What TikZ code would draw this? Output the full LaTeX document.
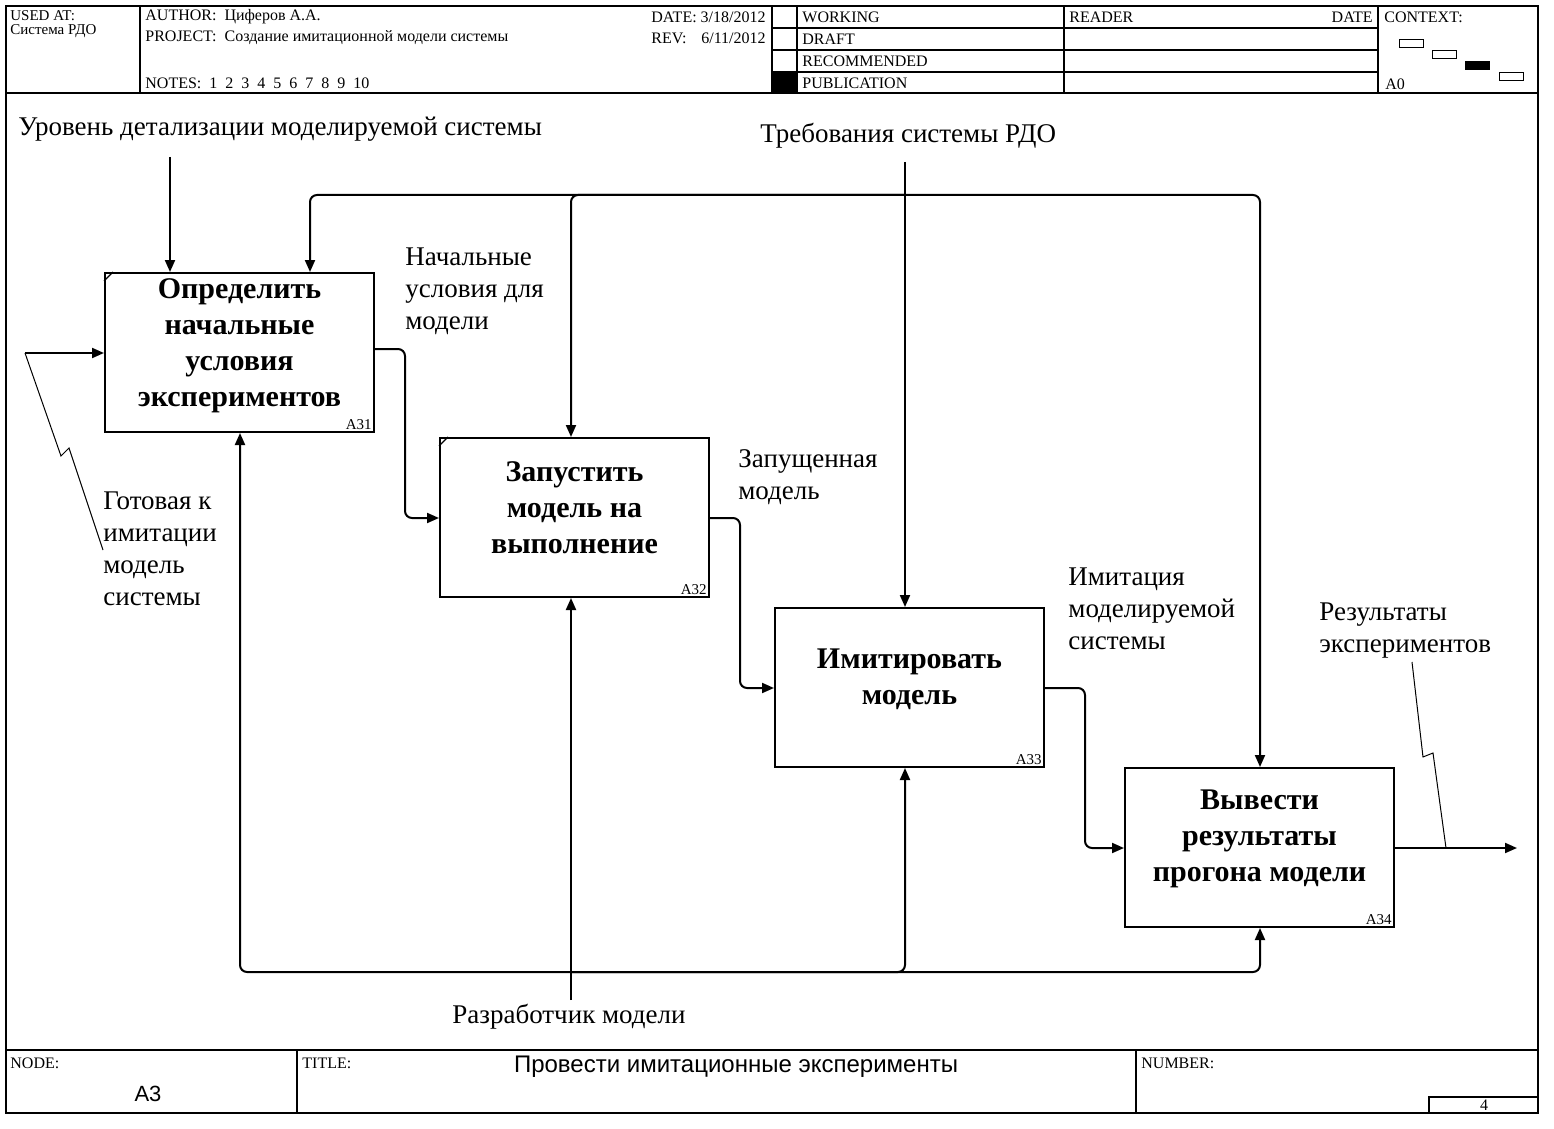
\documentclass[tikz,border=0pt]{standalone}
\usepackage{fontspec}
\setmainfont{Liberation Serif}
\newfontfamily\arialfont{Liberation Sans}
\usetikzlibrary{arrows.meta}

\begin{document}
\begin{tikzpicture}[x=0.5pt,y=-0.5pt,
  frame/.style={line width=0.6pt},
  conn/.style={line width=1pt, rounded corners=3.5pt},
  arr/.style={conn, -{Triangle[length=6pt,width=5pt]}},
  squig/.style={line width=0.5pt},
  proc/.style={draw, line width=1pt, minimum width=134.5pt, minimum height=79.5pt, inner sep=0pt},
  ptext/.style={font=\fontsize{15}{18}\selectfont\bfseries, align=center, inner sep=0pt},
  lbl/.style={font=\fontsize{13.5}{16}\selectfont, align=left, anchor=north west, inner sep=0pt},
  hdr/.style={font=\fontsize{8}{9}\selectfont, anchor=west, inner sep=0pt},
  hdrr/.style={hdr, anchor=east},
  idx/.style={font=\fontsize{7.5}{8}\selectfont, anchor=south east, inner sep=1.5pt},
  ctx/.style={draw, line width=0.5pt, minimum width=12pt, minimum height=4pt, inner sep=0pt},
  corner/.style={line width=0.6pt}
]
\useasboundingbox (0,0) rectangle (1554,1129);

% ---------- frame ----------
\draw[frame] (6,6) rectangle (1538,1113);
\draw[frame] (6,93) -- (1538,93);
\draw[frame] (6,1050) -- (1538,1050);

% header cells
\foreach \x in {140,772,797,1064,1378} \draw[frame] (\x,6) -- (\x,93);
\foreach \y in {28,50,72} \draw[frame] (772,\y) -- (1378,\y);
\fill (772,72) rectangle (797,93);

\node[hdr, font=\fontsize{7.5}{8}\selectfont, anchor=base west] (usedat) at (10,21) {USED AT:};
\node[hdr, font=\fontsize{7.5}{8}\selectfont, anchor=base west] (usedat2) at (10,35) {Система РДО};
\node[hdr] (author) at (145,17) {AUTHOR:\ \ Циферов А.А.};
\node[hdr] (project) at (145,38) {PROJECT:\ \ Создание имитационной модели системы};
\node[hdr] (notes) at (145,83) {NOTES:\ \ 1\ \ 2\ \ 3\ \ 4\ \ 5\ \ 6\ \ 7\ \ 8\ \ 9\ \ 10};
\node[hdr] (date) at (651,17) {DATE:};
\node[hdrr] (dateval) at (766,17) {3/18/2012};
\node[hdr] (rev) at (651,38) {REV:};
\node[hdrr] (revval) at (766,38) {6/11/2012};
\node[hdr] (working) at (802,17) {WORKING};
\node[hdr] (draft) at (802,39) {DRAFT};
\node[hdr] (recom) at (802,61) {RECOMMENDED};
\node[hdr] (publ) at (802,83) {PUBLICATION};
\node[hdr] (reader) at (1069,17) {READER};
\node[hdrr] (rdate) at (1373,17) {DATE};
\node[hdr] (context) at (1384,17) {CONTEXT:};
\node[hdr] (a0) at (1385,84) {A0};

% context map
\node[ctx] (c1) at (1411,44) {};
\node[ctx] (c2) at (1444,55) {};
\node[ctx, fill=black] (c3) at (1477,66) {};
\node[ctx] (c4) at (1511,77) {};

% footer cells
\draw[frame] (297,1050) -- (297,1113);
\draw[frame] (1136,1050) -- (1136,1113);
\draw[frame] (1429,1113) |- (1538,1097);
\node[hdr] (nodelbl) at (10,1063) {NODE:};
\node[hdr] (titlelbl) at (302,1063) {TITLE:};
\node[hdr] (numlbl) at (1141,1063) {NUMBER:};
\node[font=\arialfont\fontsize{11}{13}\selectfont, inner sep=0pt] (nodeval) at (148,1094) {A3};
\node[font=\arialfont\fontsize{12}{14}\selectfont, inner sep=0pt] (title) at (736,1067) {Провести имитационные эксперименты};
\node[font=\fontsize{8}{9}\selectfont, inner sep=0pt] (pagenum) at (1484,1105) {4};

% ---------- activity boxes ----------
\node[proc] (A31) at (239.5,352.5) {};
\node[proc] (A32) at (574.5,517.5) {};
\node[proc] (A33) at (909.5,687.5) {};
\node[proc] (A34) at (1259.5,847.5) {};

\node[ptext] (t31) at (239.5,346) {Определить\\начальные\\условия\\экспериментов};
\node[ptext] (t32) at (574.5,508) {Запустить\\модель на\\выполнение};
\node[ptext] (t33) at (909.5,679) {Имитировать\\модель};
\node[ptext] (t34) at (1259.5,839) {Вывести\\результаты\\прогона модели};

\node[idx] at (A31.south east) {A31};
\node[idx] at (A32.south east) {A32};
\node[idx] at (A33.south east) {A33};
\node[idx] at (A34.south east) {A34};

\draw[corner] ([yshift=-4.5pt]A31.north west) -- ([xshift=4.5pt]A31.north west);
\draw[corner] ([yshift=-4.5pt]A32.north west) -- ([xshift=4.5pt]A32.north west);

% ---------- labels ----------
\node[lbl, anchor=west] (lvl) at (18,129) {Уровень детализации моделируемой системы};
\node[lbl, anchor=west] (req) at (760,136) {Требования системы РДО};
\node[lbl] (init) at (405,247) {Начальные\\условия для\\модели};
\node[lbl] (run) at (738,449) {Запущенная\\модель};
\node[lbl] (imit) at (1068,567) {Имитация\\моделируемой\\системы};
\node[lbl] (res) at (1319,602) {Результаты\\экспериментов};
\node[lbl] (ready) at (103,491) {Готовая к\\имитации\\модель\\системы};
\node[lbl, anchor=west] (dev) at (452,1017) {Разработчик модели};

% ---------- connectors ----------
% controls
\coordinate (lvlsrc) at (170,157);
\draw[arr] (lvlsrc) -- (lvlsrc |- A31.north);

\coordinate (reqsrc) at (905,162);
\coordinate (jt) at (905,195);
\draw[arr] (reqsrc) -- (reqsrc |- A33.north);
\draw[arr] (jt) -| (310,0 |- A31.north);
\draw[arr] (jt) -| (571,0 |- A32.north);
\draw[arr] (jt) -| (1260,0 |- A34.north);

% mechanisms
\coordinate (devsrc) at (571,1000);
\coordinate (jb) at (571,972);
\draw[arr] (devsrc) -- (devsrc |- A32.south);
\draw[arr] (jb) -| (240,0 |- A31.south);
\draw[arr] (jb) -| (905,0 |- A33.south);
\draw[arr] (jb) -| (1260,0 |- A34.south);

% input
\coordinate (insrc) at (25,353);
\draw[arr] (insrc) -- (insrc -| A31.west);

% flows between activities
\draw[arr] (A31.east |- 0,349) -- (405,349) -- (405,518) -- (A32.west |- 0,518);
\draw[arr] (A32.east |- 0,518) -- (740,518) -- (740,688) -- (A33.west |- 0,688);
\draw[arr] (A33.east |- 0,688) -- (1085,688) -- (1085,848) -- (A34.west |- 0,848);

% output
\coordinate (outdst) at (1517,848);
\draw[arr] (A34.east |- outdst) -- (outdst);

% label squiggles
\draw[squig] (insrc) -- (61,456) -- (69,448) -- (103,550);
\draw[squig] (1412,662) -- (1423,757) -- (1433,753) -- (1446,848);

\end{tikzpicture}
\end{document}
